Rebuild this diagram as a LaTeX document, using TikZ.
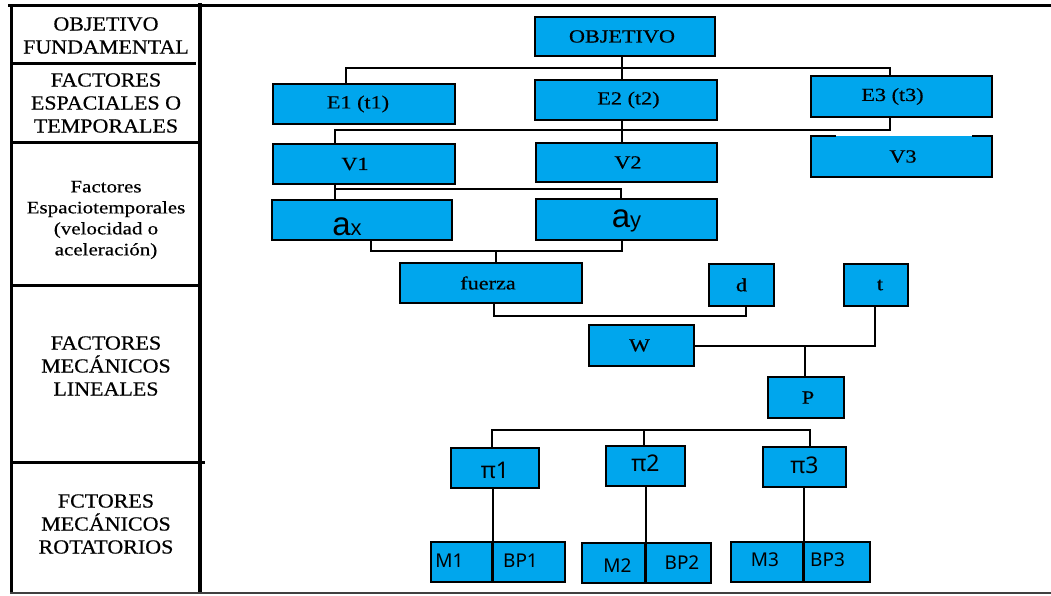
\documentclass[tikz,border=0pt]{standalone}
\usepackage{fontspec}
\setmainfont{Liberation Serif}
\setsansfont{Liberation Sans}
\newfontfamily\boxfont{Liberation Serif}[FakeStretch=1.2,FakeBold=0.5]
\newfontfamily\leftfont{Liberation Serif}[FakeStretch=1.1,FakeBold=0.5]
\newfontfamily\pifont{Noto Sans}
\usetikzlibrary{calc}
\definecolor{boxblue}{RGB}{0,166,237}
\newcommand\vt[2]{\raisebox{#1}[0pt][0pt]{#2}}
\begin{document}
\begin{tikzpicture}[x=1pt,y=-1pt,
  box/.style={draw=black, line width=1.6pt, fill=boxblue, inner sep=0pt, font=\boxfont\fontsize{18.5}{20}\selectfont},
  sbox/.style={box, font=\pifont\fontsize{19}{20}\selectfont},
  pbox/.style={box, font=\pifont\fontsize{23}{24}\selectfont},
  conn/.style={draw=black, line width=1.4pt},
  framel/.style={draw=black, line width=3pt},
  lab/.style={align=center, inner sep=0pt, font=\leftfont\fontsize{20}{23}\selectfont},
  labs/.style={align=center, inner sep=0pt, font=\boxfont\fontsize{17.5}{21}\selectfont}]
\useasboundingbox (0,0) rectangle (1051,595);
% frame
\draw[framel] (8,5) -- (1051,5);
\draw[framel] (11,5) -- (11,593);
\draw[draw=black, line width=4pt] (200,3) -- (200,593);
\draw[framel] (10,63) -- (196,63);
\draw[framel] (10,142) -- (200,142);
\draw[framel] (10,285) -- (200,285);
\draw[framel] (10,462) -- (205,462);
\draw[draw=black!75, line width=2pt] (10,593) -- (1051,593);
% left labels
\node[lab] (l1) at (106,35.5) {OBJETIVO\\FUNDAMENTAL};
\node[lab] (l2) at (106,103) {FACTORES\\ESPACIALES O\\TEMPORALES};
\node[labs] (l3) at (106,220) {Factores\\Espaciotemporales\\(velocidad o\\aceleración)};
\node[lab] (l4) at (106,366) {FACTORES\\MECÁNICOS\\LINEALES};
\node[lab] (l5) at (106,524) {FCTORES\\MECÁNICOS\\ROTATORIOS};
% boxes
\node[box, minimum width=180, minimum height=39] (obj) at (625,36.5) {OBJETIVO\hspace*{6pt}};
\node[box, minimum width=182, minimum height=40] (e1) at (364,104) {E1 (t1)\hspace*{12pt}};
\node[box, minimum width=182, minimum height=40] (e2) at (626,100) {\hspace*{5pt}E2 (t2)};
\node[box, minimum width=181, minimum height=41] (e3) at (901.5,96.5) {E3 (t3)\hspace*{18pt}};
\node[box, minimum width=182, minimum height=40] (v1) at (364,164) {V1\hspace*{18pt}};
\node[box, minimum width=181, minimum height=39] (v2) at (626.5,162.5) {\hspace*{3pt}V2};
\node[fill=boxblue, inner sep=0pt, minimum width=181, minimum height=41, font=\boxfont\fontsize{18.5}{20}\selectfont] (v3) at (901.5,156.5) {\hspace*{3pt}V3};
\draw[draw=black, line width=1.6pt] ([xshift=25pt]v3.north west) -- (v3.north west) -- (v3.south west) -- (v3.south east) -- (v3.north east) -- ([xshift=-20pt]v3.north east);
\node[box, minimum width=180, minimum height=40] (ax) at (362,220) {\vt{-15pt}{{\sffamily\fontsize{33}{33}\selectfont a}{\sffamily\fontsize{22}{22}\selectfont x}}\hspace*{30pt}};
\node[box, minimum width=181, minimum height=41] (ay) at (626.5,219.5) {\vt{-7.5pt}{{\sffamily\fontsize{33}{33}\selectfont a}{\sffamily\fontsize{22}{22}\selectfont y}}};
\node[box, minimum width=182, minimum height=40] (fu) at (491,283) {fuerza\hspace*{6pt}};
\node[box, minimum width=65, minimum height=42] (d) at (741.5,285) {d};
\node[box, minimum width=64, minimum height=42] (t) at (876,285) {\hspace*{8pt}t};
\node[box, minimum width=105, minimum height=41] (w) at (641.5,345.5) {W\hspace*{4pt}};
\node[box, minimum width=76, minimum height=41] (p) at (806,397.5) {\hspace*{4pt}P};
\node[pbox, minimum width=88, minimum height=40] (pi1) at (495,468) {\vt{-10pt}{π1}};
\node[pbox, minimum width=79, minimum height=40] (pi2) at (645.5,466) {\vt{-5pt}{π2}};
\node[pbox, minimum width=83, minimum height=40] (pi3) at (804.5,467) {\vt{-6pt}{π3}};
\node[sbox, minimum width=61, minimum height=40] (m1) at (461.5,562) {\vt{-5.8pt}{M1}\hspace*{24pt}};
\node[sbox, minimum width=73, minimum height=40] (bp1) at (528.5,562) {\vt{-5.8pt}{BP1}\hspace*{16pt}};
\node[sbox, minimum width=63, minimum height=40] (m2) at (613.5,563) {\hspace*{8pt}\vt{-9.3pt}{M2}};
\node[sbox, minimum width=66, minimum height=40] (bp2) at (678,563) {\hspace*{8pt}\vt{-6.8pt}{BP2}};
\node[sbox, minimum width=72, minimum height=40] (m3) at (767,562) {\vt{-4.8pt}{M3}\hspace*{4pt}};
\node[sbox, minimum width=67, minimum height=40] (bp3) at (836.5,562) {\vt{-4.8pt}{BP3}\hspace*{18pt}};
% connectors
\coordinate (h1L) at (346,68); \coordinate (h1R) at (890,68); \coordinate (h1M) at (622,68);
\draw[conn] (h1L |- e1.north) -- (h1L) -- (h1R) -- (h1R |- e3.north);
\draw[conn] (h1M |- obj.south) -- (h1M |- e2.north);
\coordinate (h2L) at (335,130); \coordinate (h2R) at (890,130); \coordinate (h2M) at (622,130);
\draw[conn] (h2L |- v1.north) -- (h2L) -- (h2R) -- (h2R |- e3.south);
\draw[conn] (h2M |- e2.south) -- (h2M |- v2.north);
\coordinate (h3L) at (335,189); \coordinate (h3R) at (621,189);
\draw[conn] (h3L |- v1.south) -- (h3L |- ax.north);
\draw[conn] (h3L) -- (h3R) -- (h3R |- ay.north);
\coordinate (h4L) at (371,251); \coordinate (h4R) at (622,251); \coordinate (h4M) at (496,251);
\draw[conn] (h4L |- ax.south) -- (h4L) -- (h4R) -- (h4R |- ay.south);
\draw[conn] (h4M) -- (h4M |- fu.north);
\coordinate (h5L) at (494,316); \coordinate (h5R) at (746,316);
\draw[conn] (h5L |- fu.south) -- (h5L) -- (h5R) -- (h5R |- d.south);
\coordinate (h6R) at (875,346); \coordinate (h6M) at (805,346);
\draw[conn] (w.east |- h6R) -- (h6R) -- (h6R |- t.south);
\draw[conn] (h6M) -- (h6M |- p.north);
\coordinate (h7L) at (492,430); \coordinate (h7M) at (644,430); \coordinate (h7R) at (810,430);
\draw[conn] (h7L |- pi1.north) -- (h7L) -- (h7R) -- (h7R |- pi3.north);
\draw[conn] (h7M) -- (h7M |- pi2.north);
\draw[conn] (m1.east |- pi1.south) -- (m1.south east);
\draw[conn] (m2.east |- pi2.south) -- (m2.south east);
\draw[conn] (m3.east |- pi3.south) -- (m3.south east);
\end{tikzpicture}
\end{document}
